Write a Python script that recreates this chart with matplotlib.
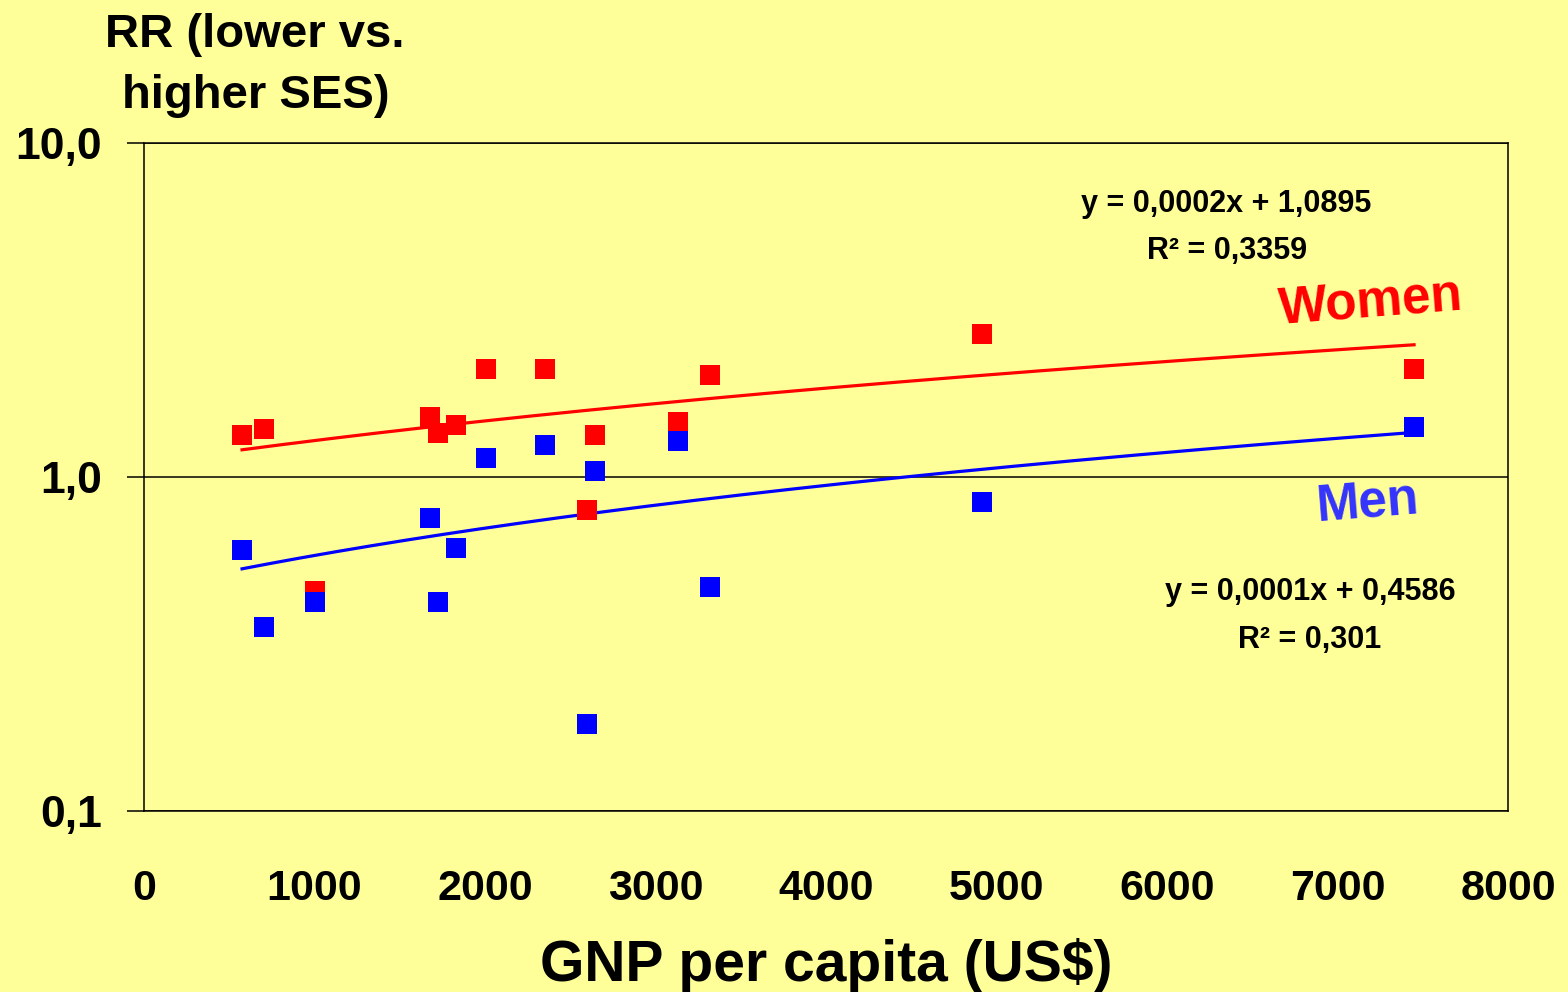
"""
RR (lower vs. higher SES) against GNP per capita, log scale, with linear trendlines.
"""

import numpy as np
import matplotlib.pyplot as plt
from matplotlib.ticker import FixedLocator, FixedFormatter, NullLocator

plt.rcParams.update({
    "font.family": ["Liberation Sans", "DejaVu Sans"],
    "font.weight": "bold",
})

BG = "#FFFF99"

# GNP per capita (US$), one entry per country
gnp = [575, 704, 1005, 1679, 1726, 1832, 2006, 2354, 2598, 2645, 3134, 3320, 4915, 7449]
rr_women = [1.33, 1.39, 0.454, 1.51, 1.35, 1.43, 2.10, 2.10, 0.795, 1.33, 1.455, 2.02, 2.68, 2.10]
rr_men = [0.605, 0.354, 0.423, 0.752, 0.423, 0.613, 1.135, 1.247, 0.182, 1.042, 1.282, 0.467, 0.84, 1.41]

y_ticks = [0.1, 1, 10]
y_tick_labels = ["0,1", "1,0", "10,0"]
x_ticks = [0, 1000, 2000, 3000, 4000, 5000, 6000, 7000, 8000]

eq_women = ["y = 0,0002x + 1,0895", "R² = 0,3359"]
eq_men = ["y = 0,0001x + 0,4586", "R² = 0,301"]

W, H = 1568, 992
fig = plt.figure(figsize=(W / 100, H / 100), dpi=100, facecolor=BG)
ax = fig.add_axes([144 / W, 1 - 810.7 / H, (1508 - 144) / W, (810.7 - 142.7) / H])
ax.set_facecolor(BG)


def px(x, y):
    return x / W, 1 - y / H


# trendlines (ordinary linear fit, drawn on the log axis like Excel does)
xs = np.linspace(min(gnp), max(gnp), 200)
for vals, col in [(rr_women, "#FF0000"), (rr_men, "#0000FF")]:
    b, a = np.polyfit(gnp, vals, 1)
    ax.plot(xs, a + b * xs, color=col, linewidth=2.3, zorder=3)

ax.plot(gnp, rr_women, "s", color="#FF0000", ms=14.5, mew=0, zorder=4)
ax.plot(gnp, rr_men, "s", color="#0000FF", ms=14.5, mew=0, zorder=5)

ax.set_yscale("log")
ax.set_ylim(0.1, 10)
ax.set_xlim(0, 8000)
ax.yaxis.set_major_locator(FixedLocator(y_ticks))
ax.yaxis.set_major_formatter(FixedFormatter(y_tick_labels))
ax.yaxis.set_minor_locator(NullLocator())
ax.set_xticks(x_ticks)
ax.set_xticklabels([str(v) for v in x_ticks])

ax.grid(True, axis="y", which="major", color="black", linewidth=1.1, zorder=1)
ax.set_axisbelow(True)
for s in ax.spines.values():
    s.set_linewidth(1.1)
    s.set_color("black")

ax.tick_params(axis="y", length=12, width=1.1, pad=18, labelsize=32)
ax.tick_params(axis="x", length=0, pad=42, labelsize=31)
for lab in ax.get_xticklabels() + ax.get_yticklabels():
    lab.set_fontweight("bold")

# axis titles
fig.text(*px(255, 46.7), "RR (lower vs.", ha="center", va="baseline",
         fontsize=34, fontweight="bold")
fig.text(*px(256, 108), "higher SES)", ha="center", va="baseline",
         fontsize=34, fontweight="bold")
fig.text(*px(826, 981), "GNP per capita (US$)", ha="center", va="baseline",
         fontsize=41, fontweight="bold")

# series labels
fig.text(*px(1371, 303), "Women", ha="center", va="center", rotation=4.5,
         fontsize=37, fontweight="bold", color="#FF0000")
fig.text(*px(1368, 503), "Men", ha="center", va="center", rotation=4.5,
         fontsize=37, fontweight="bold", color="#3333FF")

# trendline equations
fig.text(*px(1226, 204), eq_women[0], ha="center", va="center", fontsize=22, fontweight="bold")
fig.text(*px(1227, 251), eq_women[1], ha="center", va="center", fontsize=22, fontweight="bold")
fig.text(*px(1310, 592), eq_men[0], ha="center", va="center", fontsize=22, fontweight="bold")
fig.text(*px(1310, 640), eq_men[1], ha="center", va="center", fontsize=22, fontweight="bold")

fig.savefig("out.png", dpi=100, facecolor=BG)
